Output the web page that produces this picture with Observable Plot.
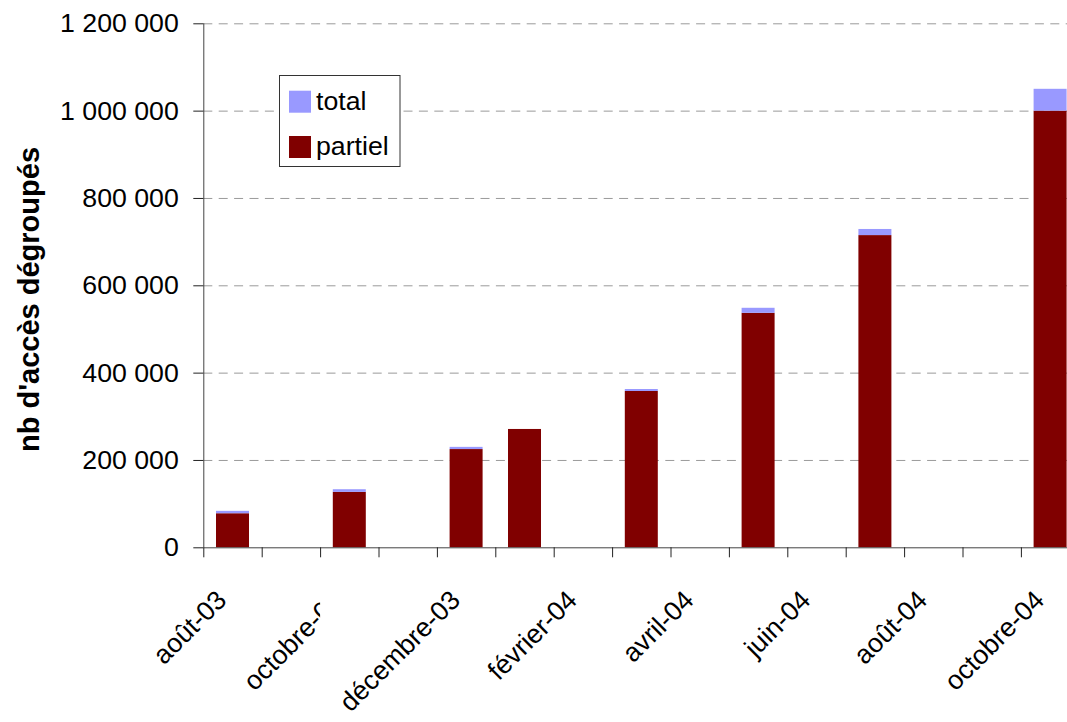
<!DOCTYPE html>
<html>
<head>
<meta charset="utf-8">
<script src="https://cdn.jsdelivr.net/npm/d3@7"></script>
<script src="https://cdn.jsdelivr.net/npm/@observablehq/plot@0.6"></script>
<style>
  html, body { margin: 0; padding: 0; background: #fff; overflow: hidden; }
  #chart { position: relative; width: 1067px; height: 722px; overflow: hidden; }
</style>
</head>
<body>
<div id="chart"></div>
<script>
// ---- data ----
const months = ["août-03","septembre-03","octobre-03","novembre-03","décembre-03","janvier-04","février-04","mars-04","avril-04","mai-04","juin-04","juillet-04","août-04","septembre-04","octobre-04"];
const barMonths = ["août-03","octobre-03","décembre-03","janvier-04","mars-04","mai-04","juillet-04","octobre-04"];
const partiel = [78000, 127000, 225000, 271000, 358000, 537000, 715000, 1000000];
const total   = [5500, 6000, 5000, 0, 4500, 11500, 14000, 50000];
const tickLabels = ["août-03","octobre-03","décembre-03","février-04","avril-04","juin-04","août-04","octobre-04"];
const yTicks = [0, 200000, 400000, 600000, 800000, 1000000, 1200000];
const series = ["partiel", "total"];
const seriesColors = ["#800000", "#9999ff"];
const legendOrder = ["total", "partiel"];
const yTitle = "nb d'accès dégroupés";

// ---- layout ----
const FONT = "'Liberation Sans', Arial, sans-serif";
const W = 1067, H = 722;
const mL = 203.3, mR = -12.3, mT = 23.3, mB = 174.7;
const step = (W - mR - mL) / months.length;
const axisColor = "#444";

const rows = barMonths.flatMap((m, i) => [
  {month: m, serie: "partiel", value: partiel[i]},
  {month: m, serie: "total", value: total[i]}
]);

const fmt = d => d3.format(",")(d).replace(/,/g, "\u00a0");

const plot = Plot.plot({
  width: W, height: H,
  marginLeft: mL, marginRight: mR, marginTop: mT, marginBottom: mB,
  style: {fontFamily: FONT, fontSize: "26.7px", color: "#000", background: "transparent", overflow: "hidden"},
  x: {domain: months, paddingInner: 0.435, paddingOuter: 0.2175, round: false, axis: null},
  y: {domain: [0, 1200000], axis: null},
  color: {domain: series, range: seriesColors},
  marks: [
    Plot.gridY(yTicks.filter(d => d > 0), {stroke: "#9a9a9a", strokeOpacity: 1, strokeWidth: 1, strokeDasharray: "9 6.4"}),
    Plot.barY(rows, {x: "month", y: "value", fill: "serie", order: series}),
    Plot.ruleY([0], {stroke: axisColor}),
    Plot.ruleX([months[0]], {dx: -step / 2, stroke: axisColor}),
    Plot.axisY(yTicks, {tickSize: 10, tickPadding: 15, fontSize: 26.7, tickFormat: fmt, label: null, stroke: "#222"}),
    Plot.axisX(months, {tickSize: 10, tickFormat: () => "", dx: -step / 2, label: null, stroke: "#222"}),
    Plot.axisX(tickLabels, {tickSize: 0, tickPadding: 48, tickRotate: -45, fontSize: 26.7, dx: -11, label: null})
  ]
});

document.getElementById("chart").appendChild(plot);
const svg = d3.select(plot);

// clip the "octobre-03" label at the left edge of its month slot, as in the reference
const xs = plot.scale("x");
const clipX = xs.apply("octobre-03") - (step - xs.bandwidth) / 2;
svg.selectAll("text").each(function() {
  if (this.textContent === "octobre-03") {
    const parent = this.parentNode;
    const m = parent.getCTM();
    const localX = (clipX - m.e) / m.a;
    const defs = svg.append("defs");
    defs.append("clipPath").attr("id", "clipOct").attr("clipPathUnits", "userSpaceOnUse")
      .append("rect").attr("x", -2000).attr("y", -2000).attr("width", localX + 2000).attr("height", 5000);
    const g = document.createElementNS("http://www.w3.org/2000/svg", "g");
    g.setAttribute("clip-path", "url(#clipOct)");
    parent.insertBefore(g, this);
    g.appendChild(this);
  }
});

// y title
svg.append("text")
  .attr("transform", "translate(39,299.5) rotate(-90)")
  .attr("text-anchor", "middle")
  .attr("font-family", FONT)
  .attr("font-weight", "bold")
  .attr("font-size", 29)
  .attr("fill", "#000")
  .text(yTitle);

// legend
const lg = svg.append("g").attr("text-anchor", "start");
lg.append("rect").attr("x", 279.5).attr("y", 75.5).attr("width", 120.5).attr("height", 91)
  .attr("fill", "#fff").attr("stroke", "#333").attr("stroke-width", 1);
legendOrder.forEach((s, i) => {
  const c = seriesColors[series.indexOf(s)];
  lg.append("rect").attr("x", 289).attr("y", 90.7 + i * 45.3).attr("width", 22).attr("height", 22).attr("fill", c);
  lg.append("text").attr("x", 316).attr("y", 110 + i * 44.5)
    .attr("text-anchor", "start")
    .attr("font-family", FONT).attr("font-size", 26.7).attr("fill", "#000").text(s);
});
</script>
</body>
</html>
